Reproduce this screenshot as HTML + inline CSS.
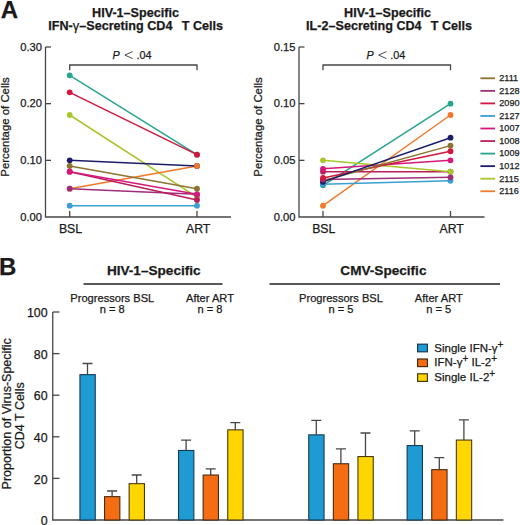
<!DOCTYPE html>
<html><head><meta charset="utf-8"><style>
html,body{margin:0;padding:0;background:#fff;}
svg{display:block;}
text{font-family:'Liberation Sans',sans-serif;fill:#1a1a1a;stroke:#1a1a1a;stroke-width:0.25px;}
</style></head><body>
<svg width="520" height="525" viewBox="0 0 520 525">
<rect width="520" height="525" fill="#fff"/>
<text x="0.8" y="17.6" style="font-weight:bold;font-size:24px">A</text>
<text x="135.5" y="17" text-anchor="middle" style="font-weight:bold;font-size:12.6px">HIV-1–Specific</text>
<text x="135.7" y="29.6" text-anchor="middle" style="font-weight:bold;font-size:12.6px" xml:space="preserve">IFN-<tspan style="font-weight:normal;font-size:13px">γ</tspan>–Secreting CD4  <tspan dx="2.4">T Cells</tspan></text>
<text transform="translate(9.3,127) rotate(-90)" text-anchor="middle" style="font-size:11.4px">Percentage of Cells</text>
<path d="M45.5,47 V217 H231" fill="none" stroke="#474747" stroke-width="1.3"/>
<path d="M45.5,47.00 H51.0" stroke="#474747" stroke-width="1.3"/>
<text x="42.0" y="50.50" text-anchor="end" style="font-size:11.2px">0.30</text>
<path d="M45.5,103.67 H51.0" stroke="#474747" stroke-width="1.3"/>
<text x="42.0" y="107.17" text-anchor="end" style="font-size:11.2px">0.20</text>
<path d="M45.5,160.33 H51.0" stroke="#474747" stroke-width="1.3"/>
<text x="42.0" y="163.83" text-anchor="end" style="font-size:11.2px">0.10</text>
<text x="42.0" y="220.50" text-anchor="end" style="font-size:11.2px">0.00</text>
<path d="M69.7,217 V211" stroke="#474747" stroke-width="1.3"/>
<path d="M197,217 V211" stroke="#474747" stroke-width="1.3"/>
<text x="70.5" y="233.2" text-anchor="middle" style="font-size:12.3px">BSL</text>
<text x="198.2" y="233.2" text-anchor="middle" style="font-size:12.3px">ART</text>
<path d="M69.7,70.3 V65 H197 V70.3" fill="none" stroke="#474747" stroke-width="1.3"/>
<text x="112.6" y="59" style="font-size:10.8px;font-style:italic">P</text>
<path d="M132.6,51.6 L124.89999999999999,55.1 L132.6,58.6" fill="none" stroke="#1a1a1a" stroke-width="0.8"/>
<text x="136.39999999999998" y="59" style="font-size:10.8px">.04</text>
<line x1="69.7" y1="75.33" x2="197" y2="154.67" stroke="#27a58e" stroke-width="1.5"/>
<line x1="69.7" y1="92.33" x2="197" y2="154.67" stroke="#d3173f" stroke-width="1.5"/>
<line x1="69.7" y1="115.00" x2="197" y2="197.17" stroke="#a9c62a" stroke-width="1.5"/>
<line x1="69.7" y1="188.67" x2="197" y2="166.00" stroke="#f07a2a" stroke-width="1.5"/>
<line x1="69.7" y1="188.67" x2="197" y2="194.33" stroke="#9e2e7c" stroke-width="1.5"/>
<line x1="69.7" y1="166.00" x2="197" y2="188.67" stroke="#8c7430" stroke-width="1.5"/>
<line x1="69.7" y1="160.33" x2="197" y2="166.00" stroke="#1c1c68" stroke-width="1.5"/>
<line x1="69.7" y1="171.67" x2="197" y2="200.00" stroke="#bc1c5c" stroke-width="1.5"/>
<line x1="69.7" y1="171.67" x2="197" y2="194.33" stroke="#d4197a" stroke-width="1.5"/>
<line x1="69.7" y1="205.67" x2="197" y2="205.67" stroke="#3a9fd3" stroke-width="1.5"/>
<circle cx="69.7" cy="75.33" r="2.9" fill="#27a58e"/>
<circle cx="69.7" cy="92.33" r="2.9" fill="#d3173f"/>
<circle cx="69.7" cy="115.00" r="2.9" fill="#a9c62a"/>
<circle cx="69.7" cy="160.33" r="2.9" fill="#1c1c68"/>
<circle cx="69.7" cy="166.00" r="2.9" fill="#8c7430"/>
<circle cx="69.7" cy="171.67" r="2.9" fill="#bc1c5c"/>
<circle cx="69.7" cy="171.67" r="2.9" fill="#d4197a"/>
<circle cx="69.7" cy="188.67" r="2.9" fill="#f07a2a"/>
<circle cx="69.7" cy="188.67" r="2.9" fill="#9e2e7c"/>
<circle cx="69.7" cy="205.67" r="2.9" fill="#3a9fd3"/>
<circle cx="197" cy="197.17" r="2.9" fill="#a9c62a"/>
<circle cx="197" cy="154.67" r="2.9" fill="#27a58e"/>
<circle cx="197" cy="154.67" r="2.9" fill="#d3173f"/>
<circle cx="197" cy="166.00" r="2.9" fill="#1c1c68"/>
<circle cx="197" cy="166.00" r="2.9" fill="#f07a2a"/>
<circle cx="197" cy="188.67" r="2.9" fill="#8c7430"/>
<circle cx="197" cy="194.33" r="2.9" fill="#9e2e7c"/>
<circle cx="197" cy="200.00" r="2.9" fill="#bc1c5c"/>
<circle cx="197" cy="194.33" r="2.9" fill="#d4197a"/>
<circle cx="197" cy="205.67" r="2.9" fill="#3a9fd3"/>
<text x="387.5" y="17" text-anchor="middle" style="font-weight:bold;font-size:12.6px">HIV-1–Specific</text>
<text x="389.1" y="29.6" text-anchor="middle" style="font-weight:bold;font-size:12.6px" xml:space="preserve">IL-2–Secreting CD4  <tspan dx="2.2">T Cells</tspan></text>
<text transform="translate(262.2,127) rotate(-90)" text-anchor="middle" style="font-size:11.4px">Percentage of Cells</text>
<path d="M299,47 V217 H484.5" fill="none" stroke="#474747" stroke-width="1.3"/>
<path d="M299,47.00 H304.5" stroke="#474747" stroke-width="1.3"/>
<text x="295.5" y="50.50" text-anchor="end" style="font-size:11.2px">0.15</text>
<path d="M299,103.67 H304.5" stroke="#474747" stroke-width="1.3"/>
<text x="295.5" y="107.17" text-anchor="end" style="font-size:11.2px">0.10</text>
<path d="M299,160.33 H304.5" stroke="#474747" stroke-width="1.3"/>
<text x="295.5" y="163.83" text-anchor="end" style="font-size:11.2px">0.05</text>
<text x="295.5" y="220.50" text-anchor="end" style="font-size:11.2px">0.00</text>
<path d="M323,217 V211" stroke="#474747" stroke-width="1.3"/>
<path d="M450.5,217 V211" stroke="#474747" stroke-width="1.3"/>
<text x="323.8" y="233.2" text-anchor="middle" style="font-size:12.3px">BSL</text>
<text x="451.7" y="233.2" text-anchor="middle" style="font-size:12.3px">ART</text>
<path d="M323,70.3 V65 H450.5 V70.3" fill="none" stroke="#474747" stroke-width="1.3"/>
<text x="366.4" y="59" style="font-size:10.8px;font-style:italic">P</text>
<path d="M386.4,51.6 L378.7,55.1 L386.4,58.6" fill="none" stroke="#1a1a1a" stroke-width="0.8"/>
<text x="390.2" y="59" style="font-size:10.8px">.04</text>
<line x1="323" y1="185.27" x2="450.5" y2="103.67" stroke="#27a58e" stroke-width="1.5"/>
<line x1="323" y1="205.67" x2="450.5" y2="115.00" stroke="#f07a2a" stroke-width="1.5"/>
<line x1="323" y1="184.13" x2="450.5" y2="180.73" stroke="#3a9fd3" stroke-width="1.5"/>
<line x1="323" y1="179.60" x2="450.5" y2="177.33" stroke="#9e2e7c" stroke-width="1.5"/>
<line x1="323" y1="171.67" x2="450.5" y2="171.67" stroke="#bc1c5c" stroke-width="1.5"/>
<line x1="323" y1="160.33" x2="450.5" y2="171.67" stroke="#a9c62a" stroke-width="1.5"/>
<line x1="323" y1="168.83" x2="450.5" y2="160.33" stroke="#d4197a" stroke-width="1.5"/>
<line x1="323" y1="177.90" x2="450.5" y2="151.27" stroke="#d3173f" stroke-width="1.5"/>
<line x1="323" y1="180.73" x2="450.5" y2="145.60" stroke="#8c7430" stroke-width="1.5"/>
<line x1="323" y1="181.87" x2="450.5" y2="137.67" stroke="#1c1c68" stroke-width="1.5"/>
<circle cx="323" cy="160.33" r="2.9" fill="#a9c62a"/>
<circle cx="323" cy="205.67" r="2.9" fill="#f07a2a"/>
<circle cx="323" cy="185.27" r="2.9" fill="#27a58e"/>
<circle cx="323" cy="184.13" r="2.9" fill="#3a9fd3"/>
<circle cx="323" cy="180.73" r="2.9" fill="#8c7430"/>
<circle cx="323" cy="181.87" r="2.9" fill="#1c1c68"/>
<circle cx="323" cy="179.60" r="2.9" fill="#9e2e7c"/>
<circle cx="323" cy="177.90" r="2.9" fill="#d3173f"/>
<circle cx="323" cy="171.67" r="2.9" fill="#bc1c5c"/>
<circle cx="323" cy="168.83" r="2.9" fill="#d4197a"/>
<circle cx="450.5" cy="103.67" r="2.9" fill="#27a58e"/>
<circle cx="450.5" cy="115.00" r="2.9" fill="#f07a2a"/>
<circle cx="450.5" cy="137.67" r="2.9" fill="#1c1c68"/>
<circle cx="450.5" cy="145.60" r="2.9" fill="#8c7430"/>
<circle cx="450.5" cy="151.27" r="2.9" fill="#d3173f"/>
<circle cx="450.5" cy="160.33" r="2.9" fill="#d4197a"/>
<circle cx="450.5" cy="171.67" r="2.9" fill="#bc1c5c"/>
<circle cx="450.5" cy="171.67" r="2.9" fill="#a9c62a"/>
<circle cx="450.5" cy="180.73" r="2.9" fill="#3a9fd3"/>
<circle cx="450.5" cy="177.33" r="2.9" fill="#9e2e7c"/>
<line x1="480.4" y1="78.30" x2="495" y2="78.30" stroke="#8c7430" stroke-width="1.8"/>
<text x="499.3" y="81.10" style="font-size:9.1px">2111</text>
<line x1="480.4" y1="90.85" x2="495" y2="90.85" stroke="#9e2e7c" stroke-width="1.8"/>
<text x="499.3" y="93.65" style="font-size:9.1px">2128</text>
<line x1="480.4" y1="103.40" x2="495" y2="103.40" stroke="#d3173f" stroke-width="1.8"/>
<text x="499.3" y="106.20" style="font-size:9.1px">2090</text>
<line x1="480.4" y1="115.95" x2="495" y2="115.95" stroke="#3a9fd3" stroke-width="1.8"/>
<text x="499.3" y="118.75" style="font-size:9.1px">2127</text>
<line x1="480.4" y1="128.50" x2="495" y2="128.50" stroke="#d4197a" stroke-width="1.8"/>
<text x="499.3" y="131.30" style="font-size:9.1px">1007</text>
<line x1="480.4" y1="141.05" x2="495" y2="141.05" stroke="#bc1c5c" stroke-width="1.8"/>
<text x="499.3" y="143.85" style="font-size:9.1px">1008</text>
<line x1="480.4" y1="153.60" x2="495" y2="153.60" stroke="#27a58e" stroke-width="1.8"/>
<text x="499.3" y="156.40" style="font-size:9.1px">1009</text>
<line x1="480.4" y1="166.15" x2="495" y2="166.15" stroke="#1c1c68" stroke-width="1.8"/>
<text x="499.3" y="168.95" style="font-size:9.1px">1012</text>
<line x1="480.4" y1="178.70" x2="495" y2="178.70" stroke="#a9c62a" stroke-width="1.8"/>
<text x="499.3" y="181.50" style="font-size:9.1px">2115</text>
<line x1="480.4" y1="191.25" x2="495" y2="191.25" stroke="#f07a2a" stroke-width="1.8"/>
<text x="499.3" y="194.05" style="font-size:9.1px">2116</text>
<text x="-1" y="275" style="font-weight:bold;font-size:24px">B</text>
<text x="153.8" y="274.8" text-anchor="middle" style="font-weight:bold;font-size:13.6px">HIV-1–Specific</text>
<text x="383.4" y="274.8" text-anchor="middle" style="font-weight:bold;font-size:13.6px">CMV-Specific</text>
<path d="M83.5,284 H222.5 M269.5,284 H500" stroke="#222" stroke-width="1.5"/>
<text x="112.3" y="301.8" text-anchor="middle" style="font-size:11.1px">Progressors BSL</text>
<text x="112.3" y="313.2" text-anchor="middle" style="font-size:11.1px">n = 8</text>
<text x="210" y="301.8" text-anchor="middle" style="font-size:11.1px">After ART</text>
<text x="210" y="313.2" text-anchor="middle" style="font-size:11.1px">n = 8</text>
<text x="341" y="301.8" text-anchor="middle" style="font-size:11.1px">Progressors BSL</text>
<text x="341" y="313.2" text-anchor="middle" style="font-size:11.1px">n = 5</text>
<text x="438.8" y="301.8" text-anchor="middle" style="font-size:11.1px">After ART</text>
<text x="438.8" y="313.2" text-anchor="middle" style="font-size:11.1px">n = 5</text>
<text transform="translate(10.5,413.8) rotate(-90)" text-anchor="middle" style="font-size:12.5px">Proportion of Virus-Specific</text>
<text transform="translate(24,415.8) rotate(-90)" text-anchor="middle" style="font-size:12.5px">CD4 T Cells</text>
<path d="M52.75,312 V520 H503.4" fill="none" stroke="#474747" stroke-width="1.3"/>
<path d="M52.75,312.00 H59.5" stroke="#474747" stroke-width="1.3"/>
<text x="47.6" y="317.20" text-anchor="end" style="font-size:12.4px">100</text>
<path d="M52.75,353.60 H59.5" stroke="#474747" stroke-width="1.3"/>
<text x="47.6" y="358.80" text-anchor="end" style="font-size:12.4px">80</text>
<path d="M52.75,395.20 H59.5" stroke="#474747" stroke-width="1.3"/>
<text x="47.6" y="400.40" text-anchor="end" style="font-size:12.4px">60</text>
<path d="M52.75,436.80 H59.5" stroke="#474747" stroke-width="1.3"/>
<text x="47.6" y="442.00" text-anchor="end" style="font-size:12.4px">40</text>
<path d="M52.75,478.40 H59.5" stroke="#474747" stroke-width="1.3"/>
<text x="47.6" y="483.60" text-anchor="end" style="font-size:12.4px">20</text>
<text x="47.6" y="525.20" text-anchor="end" style="font-size:12.4px">0</text>
<path d="M87.50,374.60 V363.50 M82.50,363.50 H92.50" stroke="#474747" stroke-width="1.3"/>
<rect x="79.95" y="374.65" width="15.3" height="145.35" fill="#1f9bd4" stroke="#163a55" stroke-width="1.1"/>
<path d="M112.10,496.60 V491.00 M107.10,491.00 H117.10" stroke="#474747" stroke-width="1.3"/>
<rect x="104.55" y="496.65" width="15.3" height="23.35" fill="#f56d12" stroke="#4a2a10" stroke-width="1.1"/>
<path d="M136.70,483.60 V475.00 M131.70,475.00 H141.70" stroke="#474747" stroke-width="1.3"/>
<rect x="129.15" y="483.65" width="15.3" height="36.35" fill="#ffd600" stroke="#4a3a10" stroke-width="1.1"/>
<path d="M186.10,450.40 V440.20 M181.10,440.20 H191.10" stroke="#474747" stroke-width="1.3"/>
<rect x="178.55" y="450.45" width="15.3" height="69.55" fill="#1f9bd4" stroke="#163a55" stroke-width="1.1"/>
<path d="M210.70,475.00 V468.80 M205.70,468.80 H215.70" stroke="#474747" stroke-width="1.3"/>
<rect x="203.15" y="475.05" width="15.3" height="44.95" fill="#f56d12" stroke="#4a2a10" stroke-width="1.1"/>
<path d="M235.30,429.80 V422.70 M230.30,422.70 H240.30" stroke="#474747" stroke-width="1.3"/>
<rect x="227.75" y="429.85" width="15.3" height="90.15" fill="#ffd600" stroke="#4a3a10" stroke-width="1.1"/>
<path d="M316.30,434.80 V420.30 M311.30,420.30 H321.30" stroke="#474747" stroke-width="1.3"/>
<rect x="308.75" y="434.85" width="15.3" height="85.15" fill="#1f9bd4" stroke="#163a55" stroke-width="1.1"/>
<path d="M340.90,463.70 V448.80 M335.90,448.80 H345.90" stroke="#474747" stroke-width="1.3"/>
<rect x="333.35" y="463.75" width="15.3" height="56.25" fill="#f56d12" stroke="#4a2a10" stroke-width="1.1"/>
<path d="M365.50,456.50 V433.00 M360.50,433.00 H370.50" stroke="#474747" stroke-width="1.3"/>
<rect x="357.95" y="456.55" width="15.3" height="63.45" fill="#ffd600" stroke="#4a3a10" stroke-width="1.1"/>
<path d="M414.70,445.50 V430.80 M409.70,430.80 H419.70" stroke="#474747" stroke-width="1.3"/>
<rect x="407.15" y="445.55" width="15.3" height="74.45" fill="#1f9bd4" stroke="#163a55" stroke-width="1.1"/>
<path d="M439.30,469.60 V457.60 M434.30,457.60 H444.30" stroke="#474747" stroke-width="1.3"/>
<rect x="431.75" y="469.65" width="15.3" height="50.35" fill="#f56d12" stroke="#4a2a10" stroke-width="1.1"/>
<path d="M463.90,440.00 V419.90 M458.90,419.90 H468.90" stroke="#474747" stroke-width="1.3"/>
<rect x="456.35" y="440.05" width="15.3" height="79.95" fill="#ffd600" stroke="#4a3a10" stroke-width="1.1"/>
<rect x="417.6" y="344.20" width="9.8" height="7.6" fill="#1f9bd4" stroke="#163a55" stroke-width="1.2"/>
<text x="434.3" y="351.60" style="font-size:11.5px">Single IFN-γ<tspan dy="-4" style="font-size:10px">+</tspan></text>
<rect x="417.6" y="359.00" width="9.8" height="7.6" fill="#f56d12" stroke="#4a2a10" stroke-width="1.2"/>
<text x="434.3" y="366.40" style="font-size:11.5px">IFN-γ<tspan dy="-4" style="font-size:10px">+</tspan><tspan dy="4"> IL-2</tspan><tspan dy="-4" style="font-size:10px">+</tspan></text>
<rect x="417.6" y="373.80" width="9.8" height="7.6" fill="#ffd600" stroke="#4a3a10" stroke-width="1.2"/>
<text x="434.3" y="381.20" style="font-size:11.5px">Single IL-2<tspan dy="-4" style="font-size:10px">+</tspan></text>
</svg>
</body></html>
